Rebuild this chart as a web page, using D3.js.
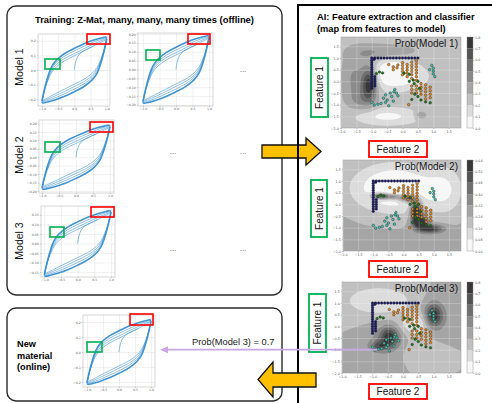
<!DOCTYPE html>
<html>
<head>
<meta charset="utf-8">
<script src="https://cdn.jsdelivr.net/npm/d3@7"></script>
<style>
  body { margin: 0; background: #fff; }
  svg { display: block; font-family: "Liberation Sans", Arial, sans-serif; }
</style>
</head>
<body>
<svg width="492" height="403"></svg>
<script>
// ---------- data ----------
const hystXTicks = [-1.0, -0.5, 0.0, 0.5, 1.0];
const hystYTicksA = [-0.2, -0.1, 0.0, 0.1, 0.2];
const hystYTicksB = [-0.2, -0.15, -0.1, -0.05, 0.0, 0.05, 0.1, 0.15, 0.2];
const hystYTicksC = [-0.15, -0.1, -0.05, 0.0, 0.05, 0.1, 0.15];

// upper branches of the cycles (normalised stress), lower branch is the mirror
const cycleUpper = [
  [[-1.0,-0.95],[-0.9,-0.5],[-0.8,-0.15],[-0.7,0.1],[-0.55,0.3],[-0.3,0.5],[0.0,0.66],[0.3,0.8],[0.6,0.91],[0.85,0.98],[0.97,1.0],[1.0,0.97]],
  [[-1.0,-0.95],[-0.9,-0.52],[-0.8,-0.2],[-0.7,0.04],[-0.55,0.23],[-0.3,0.42],[0.0,0.58],[0.3,0.72],[0.6,0.85],[0.85,0.94],[0.97,0.97],[1.0,0.95]],
  [[-1.0,-0.95],[-0.9,-0.54],[-0.8,-0.24],[-0.7,-0.02],[-0.55,0.17],[-0.3,0.35],[0.0,0.5],[0.3,0.65],[0.6,0.79],[0.85,0.9],[0.97,0.94],[1.0,0.93]],
  [[-1.0,-0.95],[-0.9,-0.56],[-0.8,-0.28],[-0.7,-0.08],[-0.55,0.1],[-0.3,0.28],[0.0,0.43],[0.3,0.58],[0.6,0.73],[0.85,0.86],[0.97,0.91],[1.0,0.9]]
];
const virginCurve = [[0,0],[0.03,0.2],[0.1,0.4],[0.22,0.54],[0.4,0.64],[0.6,0.73]];
const hystAmp = { m1a: 0.225, m1b: 0.19, m2: 0.19, m3: 0.172, online: 0.215 };

const featTicks = [-2.0, -1.5, -1.0, -0.5, 0.0, 0.5, 1.0, 1.5];
const featDom = [-2.0, 1.9];

const navyPts = [[-0.9,1.0],[-0.8,1.0],[-0.7,1.0],[-0.6,1.0],[-0.5,1.0],[-0.4,1.0],[-0.3,1.0],[-0.2,1.0],[-0.1,1.0],[0.0,1.0],[0.1,1.0],[0.2,1.0],[0.3,1.0],[0.4,1.0],[0.5,1.0],
  [-1.0,1.0],[-1.0,0.9],[-1.0,0.8],[-1.0,0.7],[-1.0,0.6],[-1.0,0.5],[-1.0,0.4],[-1.0,0.3],[-1.0,0.2],[-1.0,0.1],[-1.0,0.0],[-1.0,-0.1],[-1.0,-0.2],[-1.0,-0.3],
  [-0.92,0.95],[-0.9,0.2],[-0.9,0.1],[-0.9,0.0],[-0.9,-0.1],[-0.9,-0.2]];
const orangePts = [[-0.45,0.72],[-0.3,0.62],[-0.18,0.58],[-0.3,0.5],[-0.15,0.7],
  [0.0,0.8],[0.0,0.68],[0.0,0.55],[0.0,0.42],[0.0,0.28],
  [0.15,0.72],[0.15,0.6],[0.15,0.48],[0.15,0.35],[0.15,0.2],
  [0.3,0.82],[0.3,0.68],[0.3,0.55],[0.3,0.42],[0.3,0.28],[0.3,0.12],
  [0.45,0.88],[0.45,0.75],[0.45,0.62],[0.45,0.48],[0.45,0.35],[0.45,0.2],[0.45,0.05],
  [0.3,-0.2],[0.3,-0.35],[0.3,-0.5],[0.45,-0.2],[0.45,-0.35],[0.45,-0.5],
  [0.6,-0.1],[0.6,-0.25],[0.6,-0.4],[0.6,-0.55],
  [0.75,-0.15],[0.75,-0.3],[0.75,-0.45],[0.75,-0.6],[0.75,-0.75],
  [0.9,-0.25],[0.9,-0.4],[0.9,-0.55],[0.9,-0.7],[0.2,-1.0]];
const greenPts = [[-0.85,0.33],[-0.75,0.4],[-0.65,0.36],[0.05,0.35],[0.22,0.3],[0.35,0.05],[0.22,0.0],[0.38,-0.1],[0.5,0.0],
  [0.4,-0.55],[0.5,-0.65],[0.6,-0.8],[0.75,-0.88],[0.9,-0.92],[0.3,-0.78],[0.55,-0.3]];
const tealPts = [[0.95,0.68],[1.0,0.56],[1.0,0.44],[1.0,0.32],[1.05,0.2],[0.88,0.5],
  [-1.0,-0.9],[-0.92,-1.02],[-0.8,-0.98],[-0.7,-0.95],[-0.62,-0.72],[-0.55,-0.58],[-0.5,-0.8],[-0.45,-1.05],
  [-0.4,-0.5],[-0.35,-0.65],[-0.3,-0.85],[-0.25,-0.35],[-0.2,-0.5],[-0.15,-0.62],[-0.55,-0.9],[-0.28,-0.45]];

// probability surfaces: base level + bumps [cx, cy, sx, sy, amplitude]
const prob1Levels = [0, 0.1, 0.2, 0.3, 0.4, 0.5, 0.6, 0.7, 0.8];
const prob1Base = 0.25;
const prob1Bumps = [[-1.08,-0.1,0.17,0.5,0.5],[-1.55,0.1,0.3,0.75,0.17],[-0.9,1.25,0.55,0.25,0.15],[0.0,1.3,0.4,0.2,0.08],
  [-1.3,-0.8,0.3,0.3,0.12],[-0.35,0.35,0.45,0.45,-0.3],[0.35,0.2,0.35,0.3,-0.12],[-0.5,-1.5,0.75,0.25,-0.18],[0.6,-1.45,0.14,0.12,0.2]];
const prob2Levels = [0, 0.08, 0.16, 0.24, 0.32, 0.40, 0.48, 0.56, 0.64];
const prob2Base = 0.26;
const prob2Bumps = [[-0.3,0.7,1.0,0.75,-0.3],[1.4,0.6,0.45,0.8,-0.14],[-0.78,0.36,0.2,0.1,0.4],[-0.35,0.33,0.25,0.1,0.3],
  [0.15,0.25,0.2,0.12,0.35],[0.42,-0.25,0.13,0.3,0.5],[0.55,-0.75,0.17,0.2,0.45],[0.9,-1.05,0.3,0.13,0.35]];
const prob3Levels = [0, 0.1, 0.2, 0.3, 0.4, 0.5, 0.6, 0.7, 0.8];
const prob3Base = 0.3;
const prob3Bumps = [[-0.8,1.1,0.8,0.45,-0.2],[0.45,0.1,0.35,0.35,-0.25],[1.0,0.45,0.2,0.35,0.42],[1.05,0.4,0.4,0.6,0.1],
  [-0.45,-0.45,0.2,0.3,0.35],[-0.8,-0.85,0.2,0.15,0.25],[-0.55,-0.6,0.45,0.45,0.15],[0.6,-1.0,0.4,0.3,-0.1]];

// ---------- drawing ----------
const svg = d3.select("svg");
const blue = "#3a8fd0";

// frames
svg.append("rect").attr("x", 7).attr("y", 6).attr("width", 275).attr("height", 289).attr("rx", 9)
  .attr("fill", "none").attr("stroke", "#2a2a2a").attr("stroke-width", 1.4);
svg.append("rect").attr("x", 7).attr("y", 308).attr("width", 275).attr("height", 93).attr("rx", 9)
  .attr("fill", "none").attr("stroke", "#2a2a2a").attr("stroke-width", 1.4);

// arrow into the AI panel (sits under the frame lines)
svg.append("polygon")
  .attr("points", [[262,145],[306,145],[306,138],[321,151.5],[306,165],[306,158],[262,158]].join(" "))
  .attr("fill", "#ffc000").attr("stroke", "#111").attr("stroke-width", 1.3);

svg.append("rect").attr("x", 298).attr("y", 5).attr("width", 220).attr("height", 420)
  .attr("fill", "none").attr("stroke", "#000").attr("stroke-width", 2);

// titles
svg.append("text").attr("x", 35).attr("y", 23).attr("font-size", 9.4).attr("font-weight", "bold")
  .text("Training: Z-Mat, many, many, many times (offline)");
svg.append("text").attr("x", 317).attr("y", 20).attr("font-size", 9.3).attr("font-weight", "bold")
  .text("AI: Feature extraction and classifier");
svg.append("text").attr("x", 317).attr("y", 31.5).attr("font-size", 9.3).attr("font-weight", "bold")
  .text("(map from features to model)");

[["Model 1", 67], ["Model 2", 155], ["Model 3", 241]].forEach(([t, cy]) => {
  svg.append("text").attr("transform", `translate(23,${cy}) rotate(-90)`)
    .attr("text-anchor", "middle").attr("font-size", 10.5).attr("fill", "#111").text(t);
});

[["New", 347], ["material", 358.5], ["(online)", 370]].forEach(([t, yy]) => {
  svg.append("text").attr("x", 17).attr("y", yy).attr("font-size", 9.2).attr("font-weight", "bold").text(t);
});

[[243, 72], [173, 154], [243, 154], [173, 251], [243, 251]].forEach(([cx, cy]) => {
  svg.append("text").attr("x", cx).attr("y", cy).attr("text-anchor", "middle")
    .attr("font-size", 8).attr("fill", "#555").text("...");
});

// hysteresis panels
const hystPanels = [
  {key: "m1a", x0: 38, y0: 34, x1: 110, y1: 106, xDom: [-1.12, 1.1], yDom: [-0.246, 0.246], yTicks: hystYTicksA, fmt: ".1f", red: [87, 34, 23, 10], green: [45, 59, 15, 10]},
  {key: "m1b", x0: 138, y0: 33, x1: 213, y1: 106, xDom: [-1.15, 1.12], yDom: [-0.206, 0.206], yTicks: hystYTicksB, fmt: ".2f", red: [188, 34, 22, 10], green: [146, 50, 14, 10]},
  {key: "m2", x0: 39, y0: 120, x1: 114, y1: 193, xDom: [-1.09, 1.12], yDom: [-0.212, 0.221], yTicks: hystYTicksB, fmt: ".2f", red: [90, 122, 23, 10], green: [45, 142, 15, 10]},
  {key: "m3", x0: 41, y0: 206, x1: 115, y1: 277, xDom: [-1.1, 1.12], yDom: [-0.176, 0.197], yTicks: hystYTicksC, fmt: ".2f", red: [91, 207, 23, 10], green: [50, 227, 14, 10]},
  {key: "online", x0: 83, y0: 315, x1: 155, y1: 387, xDom: [-1.125, 1.125], yDom: [-0.233, 0.247], yTicks: hystYTicksA, fmt: ".1f", red: [130, 314, 23, 11], green: [87, 342, 15, 10]}
];

function drawHyst(p) {
  const g = svg.append("g");
  const x = d3.scaleLinear().domain(p.xDom).range([p.x0, p.x1]);
  const y = d3.scaleLinear().domain(p.yDom).range([p.y1, p.y0]);
  const amp = hystAmp[p.key];

  g.append("rect").attr("x", p.x0).attr("y", p.y0).attr("width", p.x1 - p.x0).attr("height", p.y1 - p.y0)
    .attr("fill", "#fff");

  // grid
  g.append("g").attr("transform", `translate(0,${p.y1})`)
    .call(d3.axisBottom(x).tickValues(hystXTicks).tickSize(-(p.y1 - p.y0)).tickFormat(""))
    .call(a => a.select(".domain").remove())
    .selectAll("line").attr("stroke", "#e2e2e2").attr("stroke-width", 0.5);
  g.append("g").attr("transform", `translate(${p.x0},0)`)
    .call(d3.axisLeft(y).tickValues(p.yTicks).tickSize(-(p.x1 - p.x0)).tickFormat(""))
    .call(a => a.select(".domain").remove())
    .selectAll("line").attr("stroke", "#e2e2e2").attr("stroke-width", 0.5);

  // tick labels
  const xa = g.append("g").attr("transform", `translate(0,${p.y1})`)
    .call(d3.axisBottom(x).tickValues(hystXTicks).tickSize(1.2).tickPadding(1).tickFormat(d3.format(".1f")));
  const ya = g.append("g").attr("transform", `translate(${p.x0},0)`)
    .call(d3.axisLeft(y).tickValues(p.yTicks).tickSize(1.2).tickPadding(1).tickFormat(d3.format(p.fmt)));
  [xa, ya].forEach(a => {
    a.select(".domain").remove();
    a.selectAll("line").attr("stroke", "#777").attr("stroke-width", 0.4);
    a.selectAll("text").attr("font-size", 3.2).attr("fill", "#666").attr("font-family", "'DejaVu Sans', sans-serif");
  });

  g.append("rect").attr("x", p.x0).attr("y", p.y0).attr("width", p.x1 - p.x0).attr("height", p.y1 - p.y0)
    .attr("fill", "none").attr("stroke", "#bdbdbd").attr("stroke-width", 0.6);

  // loops
  const line = d3.line().x(d => x(d[0])).y(d => y(d[1] * amp)).curve(d3.curveCatmullRom.alpha(0.5));
  cycleUpper.slice().reverse().forEach((up, k) => {
    const low = up.map(d => [-d[0], -d[1]]);
    const outer = k === cycleUpper.length - 1;
    [up, low].forEach(br => {
      g.append("path").attr("d", line(br)).attr("fill", "none")
        .attr("stroke", blue).attr("stroke-width", outer ? 1.6 : 0.7).attr("stroke-opacity", outer ? 0.95 : 0.8);
    });
  });
  g.append("path").attr("d", line(virginCurve)).attr("fill", "none")
    .attr("stroke", blue).attr("stroke-width", 0.7).attr("stroke-opacity", 0.85);

  // feature boxes
  [[p.red, "#ff0000"], [p.green, "#00b050"]].forEach(([b, c]) => {
    g.append("rect").attr("x", b[0]).attr("y", b[1]).attr("width", b[2]).attr("height", b[3])
      .attr("fill", "none").attr("stroke", c).attr("stroke-width", 1.6);
  });
}
hystPanels.forEach(drawHyst);

// probability panels
const probPanels = [
  {title: "Prob(Model 1)", x0: 341, y0: 37, x1: 461, y1: 128, levels: prob1Levels, base: prob1Base, bumps: prob1Bumps, fmt: ".1f", green: [311, 58, 17, 59], red: [369, 141, 58, 16]},
  {title: "Prob(Model 2)", x0: 343, y0: 160, x1: 461, y1: 251, levels: prob2Levels, base: prob2Base, bumps: prob2Bumps, fmt: ".2f", green: [311, 180, 16, 57], red: [369, 261, 58, 16]},
  {title: "Prob(Model 3)", x0: 342, y0: 282, x1: 461, y1: 373, levels: prob3Levels, base: prob3Base, bumps: prob3Bumps, fmt: ".1f", green: [309, 294, 17, 58], red: [369, 384, 58, 15]}
];

const classes = [[navyPts, "#1c1c6e"], [orangePts, "#e88a1e"], [greenPts, "#1f7a22"], [tealPts, "#3fc0ae"]];
let scales3 = null;

function drawProb(p, idx) {
  const g = svg.append("g");
  const x = d3.scaleLinear().domain(featDom).range([p.x0, p.x1]);
  const y = d3.scaleLinear().domain(featDom).range([p.y1, p.y0]);
  const nBands = p.levels.length - 1;
  const color = d3.scaleLinear().domain([0, nBands - 1]).range(["#f7f7f7", "#383838"]);

  const nx = 110, ny = 110;
  const values = new Float64Array(nx * ny);
  for (let j = 0; j < ny; j++) {
    const fy = featDom[1] - (j + 0.5) / ny * (featDom[1] - featDom[0]);
    for (let i = 0; i < nx; i++) {
      const fx = featDom[0] + (i + 0.5) / nx * (featDom[1] - featDom[0]);
      let z = p.base;
      p.bumps.forEach(b => {
        z += b[4] * Math.exp(-((fx - b[0]) ** 2 / (2 * b[2] * b[2]) + (fy - b[1]) ** 2 / (2 * b[3] * b[3])));
      });
      values[j * nx + i] = Math.max(0, Math.min(z, p.levels[nBands] - 0.001));
    }
  }
  const gx = d3.scaleLinear().domain([0, nx]).range([p.x0, p.x1]);
  const gy = d3.scaleLinear().domain([0, ny]).range([p.y0, p.y1]);
  const path = d3.geoPath(d3.geoTransform({point(a, b) { this.stream.point(gx(a), gy(b)); }}));
  const bands = d3.contours().size([nx, ny]).thresholds(p.levels.slice(0, nBands))(values);

  const clipId = "clip" + idx;
  svg.append("clipPath").attr("id", clipId).append("rect")
    .attr("x", p.x0).attr("y", p.y0).attr("width", p.x1 - p.x0).attr("height", p.y1 - p.y0);
  const plot = g.append("g").attr("clip-path", `url(#${clipId})`);
  plot.append("rect").attr("x", p.x0).attr("y", p.y0).attr("width", p.x1 - p.x0).attr("height", p.y1 - p.y0)
    .attr("fill", color(0));
  plot.selectAll("path.band").data(bands).join("path").attr("class", "band")
    .attr("d", path).attr("fill", (d, i) => color(i));

  // grid
  plot.append("g").attr("transform", `translate(0,${p.y1})`)
    .call(d3.axisBottom(x).tickValues(featTicks).tickSize(-(p.y1 - p.y0)).tickFormat(""))
    .call(a => a.select(".domain").remove())
    .selectAll("line").attr("stroke", "#ffffff").attr("stroke-opacity", 0.45).attr("stroke-width", 0.5);
  plot.append("g").attr("transform", `translate(${p.x0},0)`)
    .call(d3.axisLeft(y).tickValues(featTicks).tickSize(-(p.x1 - p.x0)).tickFormat(""))
    .call(a => a.select(".domain").remove())
    .selectAll("line").attr("stroke", "#ffffff").attr("stroke-opacity", 0.45).attr("stroke-width", 0.5);

  // points
  classes.forEach(([pts, c]) => {
    plot.append("g").selectAll("circle").data(pts).join("circle")
      .attr("cx", d => x(d[0])).attr("cy", d => y(d[1])).attr("r", 1.3)
      .attr("fill", c).attr("stroke", "#222").attr("stroke-width", 0.4);
  });

  g.append("rect").attr("x", p.x0).attr("y", p.y0).attr("width", p.x1 - p.x0).attr("height", p.y1 - p.y0)
    .attr("fill", "none").attr("stroke", "#9a9a9a").attr("stroke-width", 0.5);

  const xa = g.append("g").attr("transform", `translate(0,${p.y1})`)
    .call(d3.axisBottom(x).tickValues(featTicks).tickSize(1.2).tickPadding(1).tickFormat(d3.format(".1f")));
  const ya = g.append("g").attr("transform", `translate(${p.x0},0)`)
    .call(d3.axisLeft(y).tickValues(featTicks).tickSize(1.2).tickPadding(1).tickFormat(d3.format(".1f")));

  // colorbar
  const cb = d3.scaleLinear().domain([p.levels[0], p.levels[nBands]]).range([p.y1, p.y0]);
  g.append("g").selectAll("rect").data(d3.range(nBands)).join("rect")
    .attr("x", 467).attr("width", 6)
    .attr("y", i => cb(p.levels[i + 1])).attr("height", i => cb(p.levels[i]) - cb(p.levels[i + 1]))
    .attr("fill", i => color(i));
  g.append("rect").attr("x", 467).attr("y", p.y0).attr("width", 6).attr("height", p.y1 - p.y0)
    .attr("fill", "none").attr("stroke", "#888").attr("stroke-width", 0.4);
  const ca = g.append("g").attr("transform", "translate(473,0)")
    .call(d3.axisRight(cb).tickValues(p.levels).tickSize(1.2).tickPadding(1).tickFormat(d3.format(p.fmt)));

  [xa, ya, ca].forEach(a => {
    a.select(".domain").remove();
    a.selectAll("line").attr("stroke", "#777").attr("stroke-width", 0.4);
    a.selectAll("text").attr("font-size", 3.3).attr("fill", "#555").attr("font-family", "'DejaVu Sans', sans-serif");
  });

  g.append("text").attr("x", p.x1 - 3).attr("y", p.y0 + 10).attr("text-anchor", "end")
    .attr("font-size", 10).attr("fill", "#1a1a1a").text(p.title);

  // feature label boxes
  const gb = p.green, rb = p.red;
  g.append("rect").attr("x", gb[0]).attr("y", gb[1]).attr("width", gb[2]).attr("height", gb[3])
    .attr("fill", "#fff").attr("stroke", "#00b050").attr("stroke-width", 1.8);
  g.append("text").attr("transform", `translate(${gb[0] + gb[2] / 2 + 3.6},${gb[1] + gb[3] / 2}) rotate(-90)`)
    .attr("text-anchor", "middle").attr("font-size", 10).attr("fill", "#111").text("Feature 1");
  g.append("rect").attr("x", rb[0]).attr("y", rb[1]).attr("width", rb[2]).attr("height", rb[3])
    .attr("fill", "#fff").attr("stroke", "#ff0000").attr("stroke-width", 1.8);
  g.append("text").attr("x", rb[0] + rb[2] / 2).attr("y", rb[1] + rb[3] / 2 + 3.6)
    .attr("text-anchor", "middle").attr("font-size", 10).attr("fill", "#111").text("Feature 2");

  if (idx === 2) scales3 = {x, y};
}
probPanels.forEach(drawProb);

// link from the new material to the prediction
const ax0 = scales3.x(-0.85), ay = scales3.y(-1.0);
svg.append("line").attr("x1", ax0).attr("y1", ay).attr("x2", 166).attr("y2", ay)
  .attr("stroke", "#c9a6e6").attr("stroke-width", 1.8);
svg.append("polygon").attr("points", [[160, ay], [168, ay - 3.5], [168, ay + 3.5]].join(" "))
  .attr("fill", "#c9a6e6");
svg.append("text").attr("x", 192).attr("y", 345).attr("font-size", 9.3).attr("fill", "#1a1a1a")
  .text("Prob(Model 3) = 0.7");

// arrow back to the online box (drawn over the frame lines)
svg.append("polygon")
  .attr("points", [[316,373],[273,373],[273,362],[258,379.5],[273,397],[273,387],[316,387]].join(" "))
  .attr("fill", "#ffc000").attr("stroke", "#111").attr("stroke-width", 1.3);
</script>
</body>
</html>
